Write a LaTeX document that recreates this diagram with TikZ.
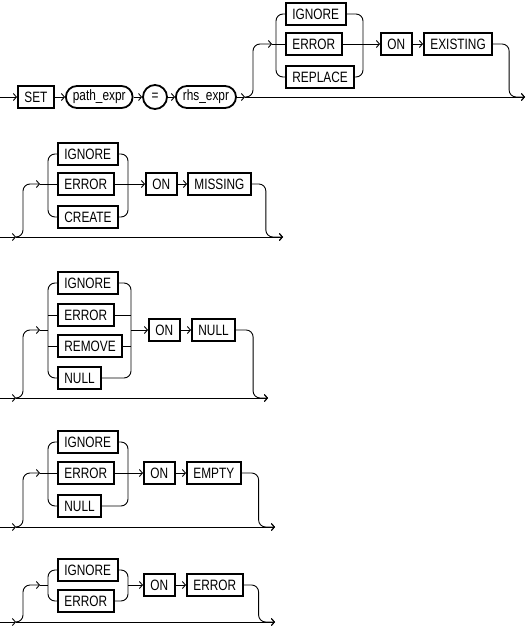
\documentclass[tikz,border=0pt]{standalone}
\usepackage{fontspec}
\setmainfont{Liberation Sans}[FakeStretch=0.79]
\usetikzlibrary{arrows.meta}

\begin{document}
\begin{tikzpicture}[x=1pt,y=-1pt,
    kbox/.style={draw,line width=1.8pt,minimum height=22pt,inner xsep=6.5pt,
                 inner ysep=0pt,anchor=west,font=\fontsize{15}{17}\selectfont},
    vbox/.style={kbox,rounded corners=11pt,inner xsep=7pt},
    obox/.style={circle,draw,line width=1.8pt,minimum size=24pt,inner sep=0pt,
                 font=\fontsize{15}{17}\selectfont},
    rail/.style={line width=0.9pt,rounded corners=7pt},
    rarr/.style={rail,-{Straight Barb[length=3pt,width=7pt]}}]
    \useasboundingbox (0,0) rectangle (527,626);
    % SET path_expr = rhs_expr ... ON EXISTING
    \coordinate (s1) at (0,97);
    \coordinate (j1) at (245,97);
    \coordinate (e1) at (525,97);
    \coordinate (a1) at (272,44);
    \coordinate (lb1) at (276,44);
    \coordinate (rb1) at (363,44);
    \node[kbox] (set)  at (17,97)  {SET};
    \node[vbox] (path) at (65,97)  {path\_expr};
    \node[obox] (eq)   at (155,97) {=};
    \node[vbox] (rhs)  at (175,97) {rhs\_expr};
    \node[kbox] (ign1) at (285,14) {IGNORE};
    \node[kbox] (err1) at (285,44) {ERROR};
    \node[kbox] (rep1) at (285,77) {REPLACE};
    \node[kbox] (on1)  at (380,44) {ON};
    \node[kbox] (exi1) at (423,44) {EXISTING};
    \draw[rarr] (s1)--(set); \draw[rarr] (set)--(path);
    \draw[rarr] (path)--(eq); \draw[rarr] (eq)--(rhs);
    \draw[rarr] (rhs)--(j1); \draw[rarr] (j1)--(e1);
    \draw[rarr] (j1) -- ++(8,0) |- (a1);
    \draw[rail] (a1)--(err1);
    \draw[rail] (ign1.west) -| (lb1) |- (rep1.west);
    \draw[rail] (ign1.east) -| (rb1) |- (rep1.east);
    \draw[rarr] (err1)--(on1); \draw[rarr] (on1)--(exi1);
    \draw[rarr] (exi1.east) -- ++(16,0) |- (e1);
    % ON MISSING
    \coordinate (s2) at (0,237);
    \coordinate (j2) at (16,237);
    \coordinate (e2) at (283,237);
    \coordinate (a2) at (40,184);
    \coordinate (lb2) at (48,184);
    \coordinate (rb2) at (128,184);
    \node[kbox] (ign2) at (57,154)  {IGNORE};
    \node[kbox] (err2) at (57,184)  {ERROR};
    \node[kbox] (cre2) at (57,217)  {CREATE};
    \node[kbox] (on2)  at (145,184) {ON};
    \node[kbox] (mis2) at (187,184) {MISSING};
    \draw[rarr] (s2)--(j2); \draw[rarr] (j2)--(e2);
    \draw[rarr] (j2) -- ++(7,0) |- (a2);
    \draw[rail] (a2)--(err2);
    \draw[rail] (ign2.west) -| (lb2) |- (cre2.west);
    \draw[rail] (ign2.east) -| (rb2) |- (cre2.east);
    \draw[rarr] (err2)--(on2); \draw[rarr] (on2)--(mis2);
    \draw[rarr] (mis2.east) -- ++(14,0) |- (e2);
    % ON NULL
    \coordinate (s3) at (0,398);
    \coordinate (j3) at (16,398);
    \coordinate (e3) at (268,398);
    \coordinate (a3) at (40,330);
    \coordinate (lb3) at (48,330);
    \coordinate (rb3) at (131,330);
    \node[kbox] (ign3) at (57,283)  {IGNORE};
    \node[kbox] (err3) at (57,315)  {ERROR};
    \node[kbox] (rem3) at (57,346)  {REMOVE};
    \node[kbox] (nul3) at (57,378)  {NULL};
    \node[kbox] (on3)  at (148,330) {ON};
    \node[kbox] (nl3)  at (191,330) {NULL};
    \draw[rarr] (s3)--(j3); \draw[rarr] (j3)--(e3);
    \draw[rarr] (j3) -- ++(7,0) |- (a3);
    \draw[rail] (a3)--(lb3);
    \draw[rail] (ign3.west) -| (lb3) |- (nul3.west);
    \draw[rail] (lb3 |- err3)--(err3); \draw[rail] (lb3 |- rem3)--(rem3);
    \draw[rail] (ign3.east) -| (rb3) |- (nul3.east);
    \draw[rail] (err3)--(rb3 |- err3); \draw[rail] (rem3)--(rb3 |- rem3);
    \draw[rarr] (rb3)--(on3); \draw[rarr] (on3)--(nl3);
    \draw[rarr] (nl3.east) -- ++(17,0) |- (e3);
    % ON EMPTY
    \coordinate (s4) at (0,527);
    \coordinate (j4) at (16,527);
    \coordinate (e4) at (275,527);
    \coordinate (a4) at (40,473);
    \coordinate (lb4) at (48,473);
    \coordinate (rb4) at (128,473);
    \node[kbox] (ign4) at (57,442)  {IGNORE};
    \node[kbox] (err4) at (57,473)  {ERROR};
    \node[kbox] (nul4) at (57,506)  {NULL};
    \node[kbox] (on4)  at (143,473) {ON};
    \node[kbox] (emp4) at (186,473) {EMPTY};
    \draw[rarr] (s4)--(j4); \draw[rarr] (j4)--(e4);
    \draw[rarr] (j4) -- ++(7,0) |- (a4);
    \draw[rail] (a4)--(err4);
    \draw[rail] (ign4.west) -| (lb4) |- (nul4.west);
    \draw[rail] (ign4.east) -| (rb4) |- (nul4.east);
    \draw[rarr] (err4)--(on4); \draw[rarr] (on4)--(emp4);
    \draw[rarr] (emp4.east) -- ++(17,0) |- (e4);
    % ON ERROR
    \coordinate (s5) at (0,622);
    \coordinate (j5) at (16,622);
    \coordinate (e5) at (275,622);
    \coordinate (a5) at (40,585);
    \coordinate (lb5) at (48,585);
    \coordinate (rb5) at (128,585);
    \node[kbox] (ign5) at (57,570)  {IGNORE};
    \node[kbox] (err5) at (57,601)  {ERROR};
    \node[kbox] (on5)  at (143,585) {ON};
    \node[kbox] (er5)  at (186,585) {ERROR};
    \draw[rarr] (s5)--(j5); \draw[rarr] (j5)--(e5);
    \draw[rarr] (j5) -- ++(7,0) |- (a5);
    \draw[rail] (a5)--(lb5);
    \draw[rail] (ign5.west) -| (lb5) |- (err5.west);
    \draw[rail] (ign5.east) -| (rb5) |- (err5.east);
    \draw[rarr] (rb5)--(on5); \draw[rarr] (on5)--(er5);
    \draw[rarr] (er5.east) -- ++(15,0) |- (e5);
\end{tikzpicture}
\end{document}
